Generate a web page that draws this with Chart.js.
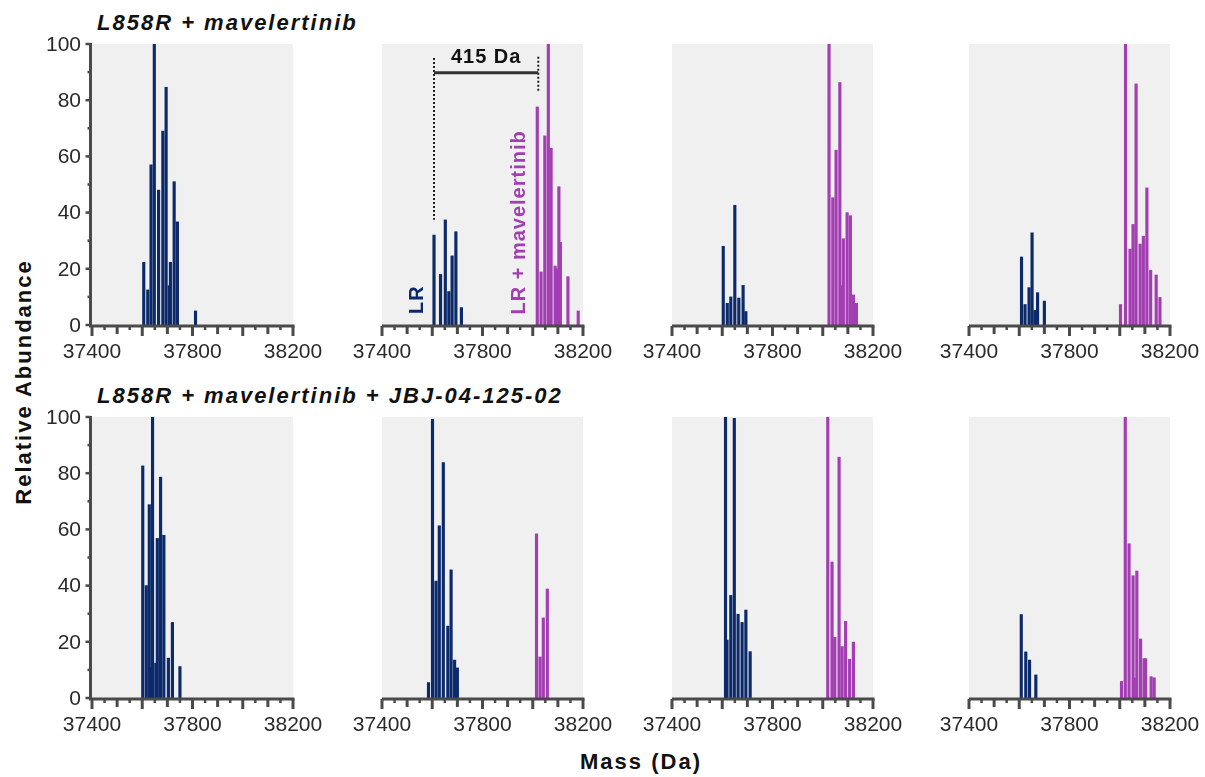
<!DOCTYPE html>
<html>
<head>
<meta charset="utf-8">
<script src="https://cdn.jsdelivr.net/npm/chart.js@4.4.1/dist/chart.umd.min.js"></script>
<style>
  body { margin: 0; background: #fff; width: 1205px; height: 777px; position: relative; overflow: hidden;
         font-family: "Liberation Sans", Arial, sans-serif; color: #111; }
  canvas.panel { position: absolute; }
  .txt { position: absolute; font-weight: bold; font-size: 22px; line-height: 22px; letter-spacing: 2px; white-space: nowrap; }
  .row-title { font-style: italic; left: 97px; }
  .centered { transform: translate(-50%, -50%); }
  .ylab { transform: translate(-50%, -50%) rotate(-90deg); }
</style>
</head>
<body>
<div class="txt row-title" style="top:12px">L858R + mavelertinib</div>
<div class="txt row-title" style="top:385px">L858R + mavelertinib + JBJ-04-125-02</div>
<div class="txt ylab" style="left:24px; top:382px">Relative Abundance</div>
<div class="txt centered" style="left:641px; top:762px">Mass (Da)</div>

<script>
// axis ticks
const massTicks = [37400, 37800, 38200];
const abundanceTicks = [0, 20, 40, 60, 80, 100];

// [mass, relative abundance] sticks, LR (navy) and LR + mavelertinib (purple)
// row 1: L858R + mavelertinib
const r1c1Lr = [[37606, 22.3], [37622, 12.5], [37635, 57], [37648, 100], [37665, 48], [37682, 69],
                [37695, 84.6], [37708, 14], [37712, 22.3], [37727, 51], [37740, 36.7], [37812, 5]];
const r1c1Adduct = [];
const r1c2Lr = [[37607, 32], [37633, 18], [37652, 37.4], [37666, 11.9], [37679, 24.6], [37694, 33.2], [37716, 6.2]];
const r1c2Adduct = [[38018, 77.6], [38033, 18.9], [38048, 67.3], [38062, 100], [38073, 62.9], [38089, 21],
                    [38094, 20], [38104, 49.2], [38110, 29.4], [38140, 17.2], [38181, 5]];
const r1c3Lr = [[37604, 28], [37620, 7.7], [37634, 10], [37650, 42.6], [37666, 9.6], [37683, 14.1], [37694, 4.8]];
const r1c3Adduct = [[38025, 100], [38040, 45.3], [38053, 62.2], [38068, 86.3], [38073, 14], [38082, 30.7],
                    [38097, 40], [38110, 38.9], [38122, 10.7], [38134, 7.7]];
const r1c4Lr = [[37609, 24.2], [37623, 7.3], [37639, 13.3], [37651, 32.8], [37663, 5.2], [37673, 11.5], [37700, 8.5]];
const r1c4Adduct = [[38003, 7.3], [38023, 100], [38041, 27], [38053, 35.8], [38065, 85.8], [38081, 28.8],
                    [38094, 31.6], [38108, 48.8], [38123, 19.5], [38145, 17.8], [38160, 9.8]];

// row 2: L858R + mavelertinib + JBJ-04-125-02
const r2c1Lr = [[37602, 82.6], [37616, 40], [37628, 68.8], [37633, 10.8], [37641, 100], [37654, 12.4],
                [37660, 56.8], [37673, 78.6], [37686, 57.9], [37704, 14.2], [37720, 26.9], [37750, 11.2]];
const r2c1Adduct = [];
const r2c2Lr = [[37585, 5.5], [37601, 99.2], [37615, 41.6], [37628, 61.3], [37644, 83.8], [37662, 25.6],
                [37675, 45.6], [37689, 13.5], [37700, 10.7]];
const r2c2Adduct = [[38015, 58.4], [38029, 14.6], [38042, 28.5], [38058, 38.8]];
const r2c3Lr = [[37613, 100], [37619, 20.6], [37634, 36.5], [37648, 99.5], [37663, 29.8], [37679, 26.9],
                [37694, 31.3], [37711, 16.5]];
const r2c3Adduct = [[38020, 100], [38037, 48.4], [38048, 21.6], [38065, 85.7], [38077, 18.3], [38091, 27.3],
                    [38107, 13.8], [38122, 19.9]];
const r2c4Lr = [[37608, 29.7], [37626, 16.4], [37641, 13.5], [37666, 8.2]];
const r2c4Adduct = [[38007, 5.9], [38022, 100], [38037, 54.9], [38053, 43.5], [38058, 7.1], [38068, 45.2],
                    [38083, 21], [38097, 14], [38103, 14], [38125, 7.6], [38137, 7.2]];

const NAVY = '#0c2a6a';
const PURPLE = '#a23db2';
const AXIS = '#4a4a4a';
const FONT = '"Liberation Sans", Arial, sans-serif';

const plotLefts = [92, 382, 672, 969];
const plotTops = [44, 417];
const plotW = 201, plotH = 281;
const padL = 60, padT = 12, padR = 34, padB = 50;

// grey panel, axis lines, three-level ticks and tick labels
const axisPlugin = {
    id: 'axisPlugin',
    beforeDraw(chart) {
        const a = chart.chartArea;
        chart.ctx.save();
        chart.ctx.fillStyle = '#f0f0f0';
        chart.ctx.fillRect(a.left, a.top, a.right - a.left, a.bottom - a.top);
        chart.ctx.restore();
    },
    afterDatasetsDraw(chart, args, opts) {
        const ctx = chart.ctx, a = chart.chartArea;
        const xs = chart.scales.x, ys = chart.scales.y;
        ctx.save();
        ctx.strokeStyle = AXIS;
        ctx.lineCap = 'butt';
        const yAxisX = a.left - 1.5;
        const xAxisY = a.bottom + 1;
        ctx.lineWidth = 3;
        ctx.beginPath();
        ctx.moveTo(opts.yAxis ? yAxisX - 1.5 : a.left, xAxisY);
        ctx.lineTo(a.right + 1.5, xAxisY);
        ctx.stroke();
        for (let v = xs.min; v <= xs.max; v += 50) {
            const px = xs.getPixelForValue(v);
            const len = v % 200 === 0 ? 10 : (v % 100 === 0 ? 8 : 4);
            ctx.lineWidth = v % 100 === 0 ? 3 : 2.5;
            ctx.beginPath();
            ctx.moveTo(px, xAxisY);
            ctx.lineTo(px, xAxisY + len);
            ctx.stroke();
        }

        ctx.font = '21px ' + FONT;
        ctx.fillStyle = '#2a2a2a';
        ctx.textBaseline = 'middle';
        ctx.textAlign = 'center';
        massTicks.forEach(v => ctx.fillText(String(v), xs.getPixelForValue(v), a.bottom + 27));

        if (opts.yAxis) {
            ctx.lineWidth = 3;
            ctx.beginPath();
            ctx.moveTo(yAxisX, xAxisY);
            ctx.lineTo(yAxisX, a.top - 1);
            ctx.stroke();
            for (let v = ys.min; v <= ys.max; v += 10) {
                const py = ys.getPixelForValue(v);
                const len = v % 20 === 0 ? 5 : 3;
                ctx.lineWidth = 2.5;
                ctx.beginPath();
                ctx.moveTo(yAxisX, py);
                ctx.lineTo(yAxisX - len, py);
                ctx.stroke();
            }
            ctx.textAlign = 'right';
            abundanceTicks.forEach(v => ctx.fillText(String(v), a.left - 11, ys.getPixelForValue(v) + 1));
        }
        ctx.restore();
    }
};

// 415 Da mass-shift bracket and species labels
const shiftPlugin = {
    id: 'shiftPlugin',
    afterDatasetsDraw(chart) {
        const ctx = chart.ctx;
        const xs = chart.scales.x, ys = chart.scales.y;
        const x0 = xs.getPixelForValue(37607), x1 = xs.getPixelForValue(38022);
        ctx.save();
        ctx.strokeStyle = '#222';
        ctx.lineWidth = 2;
        ctx.setLineDash([2, 2]);
        ctx.beginPath();
        ctx.moveTo(x0, ys.getPixelForValue(95));
        ctx.lineTo(x0, ys.getPixelForValue(37.5));
        ctx.moveTo(x1, ys.getPixelForValue(95.5));
        ctx.lineTo(x1, ys.getPixelForValue(83));
        ctx.stroke();
        ctx.setLineDash([]);
        ctx.strokeStyle = '#333';
        ctx.lineWidth = 3;
        ctx.beginPath();
        ctx.moveTo(x0, ys.getPixelForValue(89.8));
        ctx.lineTo(x1, ys.getPixelForValue(89.8));
        ctx.stroke();

        ctx.font = 'bold 20px ' + FONT;
        ctx.letterSpacing = '1px';
        ctx.textAlign = 'center';
        ctx.textBaseline = 'middle';
        ctx.fillStyle = '#111';
        ctx.fillText('415 Da', (x0 + x1) / 2, ys.getPixelForValue(95.3));

        const rotated = (text, mass, abund, color) => {
            ctx.save();
            ctx.translate(xs.getPixelForValue(mass), ys.getPixelForValue(abund));
            ctx.rotate(-Math.PI / 2);
            ctx.fillStyle = color;
            ctx.fillText(text, 0, 0);
            ctx.restore();
        };
        rotated('LR', 37543, 9, NAVY);
        rotated('LR + mavelertinib', 37946, 36.5, PURPLE);
        ctx.restore();
    }
};

const toPoints = pairs => pairs.map(p => ({ x: p[0], y: p[1] }));

function makePanel(row, col, lr, adduct, extra) {
    const canvas = document.createElement('canvas');
    canvas.className = 'panel';
    const w = padL + plotW + padR, h = padT + plotH + padB;
    canvas.width = w;
    canvas.height = h;
    canvas.style.left = (plotLefts[col] - padL) + 'px';
    canvas.style.top = (plotTops[row] - padT) + 'px';
    canvas.style.width = w + 'px';
    canvas.style.height = h + 'px';
    document.body.appendChild(canvas);

    new Chart(canvas.getContext('2d'), {
        type: 'bar',
        data: {
            datasets: [
                { data: toPoints(lr), backgroundColor: NAVY, barThickness: 2.5, grouped: false },
                { data: toPoints(adduct), backgroundColor: PURPLE, barThickness: 2.5, grouped: false }
            ]
        },
        options: {
            responsive: false,
            animation: false,
            devicePixelRatio: 1,
            layout: { padding: { left: 0, top: padT, right: padR, bottom: 0 } },
            plugins: {
                legend: { display: false },
                tooltip: { enabled: false },
                axisPlugin: { yAxis: col === 0 }
            },
            scales: {
                x: {
                    type: 'linear',
                    min: massTicks[0],
                    max: massTicks[massTicks.length - 1],
                    offset: false,
                    grid: { display: false, drawTicks: false },
                    border: { display: false },
                    ticks: { display: false },
                    afterFit: s => { s.height = padB; }
                },
                y: {
                    min: abundanceTicks[0],
                    max: abundanceTicks[abundanceTicks.length - 1],
                    grid: { display: false, drawTicks: false },
                    border: { display: false },
                    ticks: { display: false },
                    afterFit: s => { s.width = padL; }
                }
            }
        },
        plugins: [axisPlugin].concat(extra || [])
    });
}

makePanel(0, 0, r1c1Lr, r1c1Adduct);
makePanel(0, 1, r1c2Lr, r1c2Adduct, [shiftPlugin]);
makePanel(0, 2, r1c3Lr, r1c3Adduct);
makePanel(0, 3, r1c4Lr, r1c4Adduct);
makePanel(1, 0, r2c1Lr, r2c1Adduct);
makePanel(1, 1, r2c2Lr, r2c2Adduct);
makePanel(1, 2, r2c3Lr, r2c3Adduct);
makePanel(1, 3, r2c4Lr, r2c4Adduct);
</script>
</body>
</html>
